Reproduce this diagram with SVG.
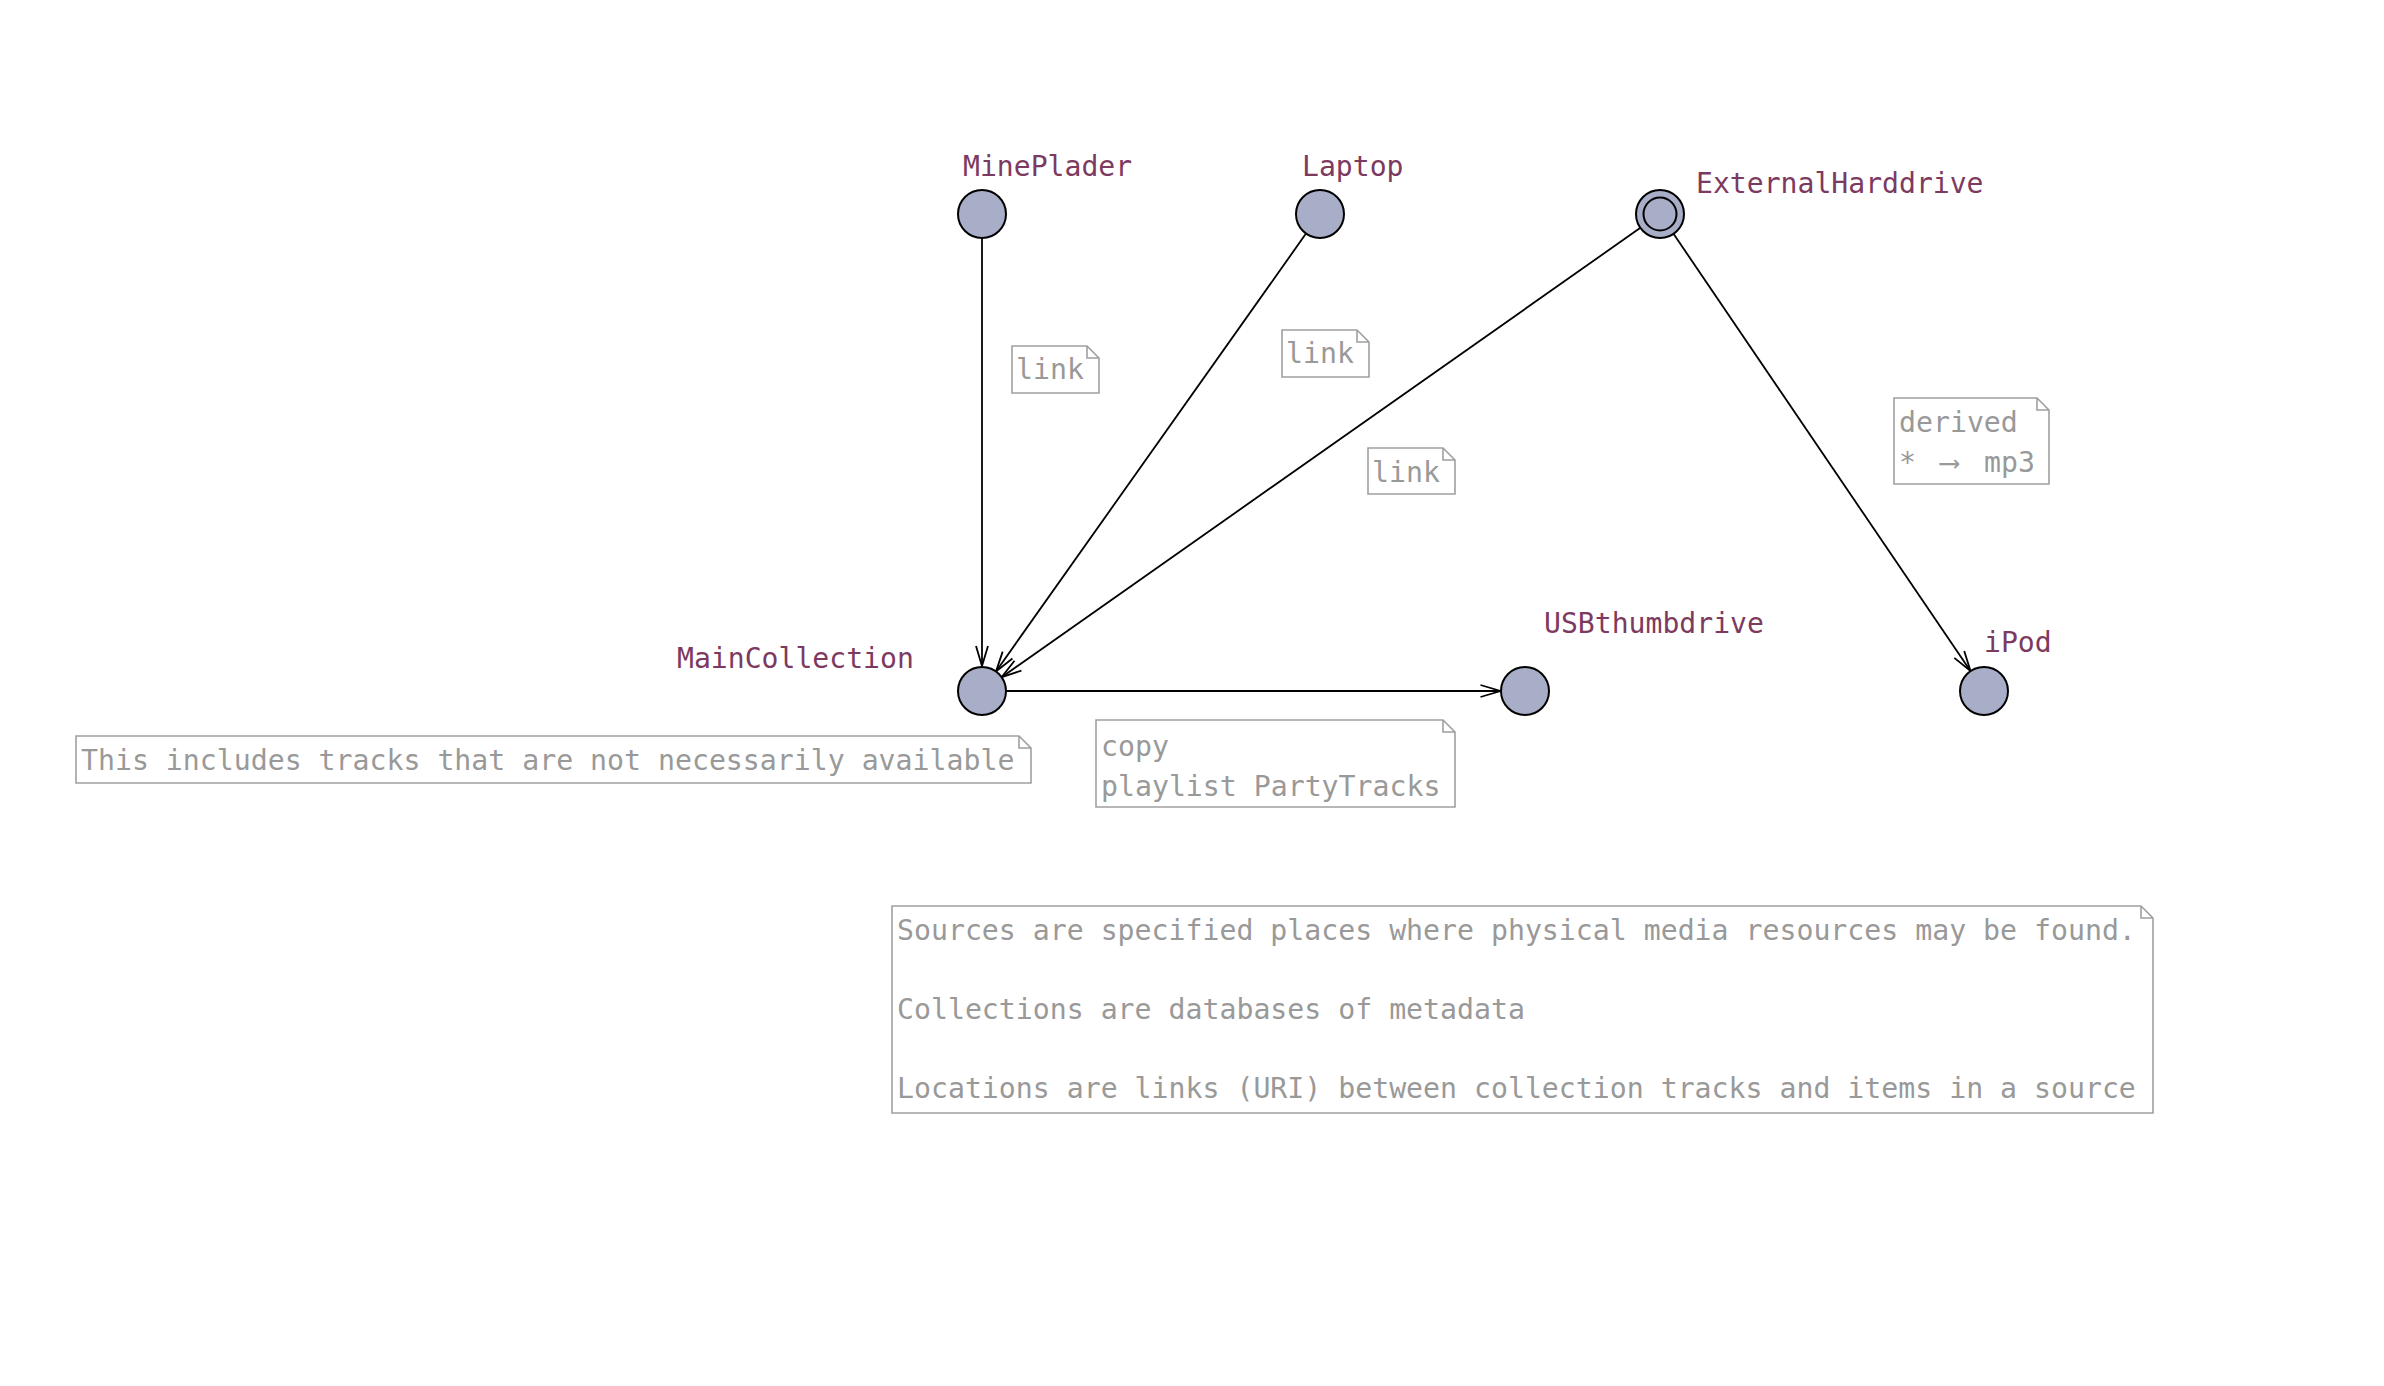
<svg xmlns="http://www.w3.org/2000/svg" width="2384" height="1386" viewBox="0 0 2384 1386">
<style>
.lbl{font-family:"DejaVu Sans Mono","Liberation Mono",monospace;font-size:28.1px;fill:#7d3a60}
.nt{font-family:"DejaVu Sans Mono","Liberation Mono",monospace;font-size:28.2px;fill:#999999}
.node{fill:#a8aec8;stroke:#000;stroke-width:2}
.note{fill:#fff;stroke:#a0a0a0;stroke-width:1.6}
.edge{fill:none;stroke:#000;stroke-width:1.8}
</style>
<defs>
<marker id="arr" markerUnits="userSpaceOnUse" markerWidth="24" markerHeight="16" refX="21" refY="7" orient="auto">
<path d="M1,1 L21,7 L1,13" fill="none" stroke="#000" stroke-width="1.8"/>
</marker>
</defs>
<rect width="2384" height="1386" fill="#fff"/>
<g id="connectors">
<line class="edge" x1="982" y1="238" x2="982" y2="666" marker-end="url(#arr)"/>
<line class="edge" x1="1306" y1="233.6" x2="996" y2="671.4" marker-end="url(#arr)"/>
<line class="edge" x1="1640.4" y1="227.8" x2="1001.6" y2="677.2" marker-end="url(#arr)"/>
<line class="edge" x1="1673.5" y1="233.8" x2="1970.5" y2="671" marker-end="url(#arr)"/>
<line class="edge" x1="1006.5" y1="691" x2="1500.5" y2="691" marker-end="url(#arr)"/>
</g>
<g id="MinePlader">
<circle class="node" cx="982" cy="214" r="24"/>
<text class="lbl" x="963" y="176">MinePlader</text>
</g>
<g id="Laptop">
<circle class="node" cx="1320" cy="214" r="24"/>
<text class="lbl" x="1302" y="176">Laptop</text>
</g>
<g id="ExternalHarddrive">
<circle class="node" cx="1660" cy="214" r="24"/>
<circle class="node" cx="1660" cy="214" r="16.5"/>
<text class="lbl" x="1696" y="193">ExternalHarddrive</text>
</g>
<g id="MainCollection">
<circle class="node" cx="982" cy="691" r="24"/>
<text class="lbl" x="677" y="668">MainCollection</text>
</g>
<g id="USBthumbdrive">
<circle class="node" cx="1525" cy="691" r="24"/>
<text class="lbl" x="1544" y="633">USBthumbdrive</text>
</g>
<g id="iPod">
<circle class="node" cx="1984" cy="691" r="24"/>
<text class="lbl" x="1984" y="652">iPod</text>
</g>
<g id="note-link1">
<path class="note" d="M1012,346 H1087 L1099,358 V393 H1012 Z M1087,346 V358 H1099"/>
<text class="nt" x="1016" y="379">link</text>
</g>
<g id="note-link2">
<path class="note" d="M1282,330 H1357 L1369,342 V377 H1282 Z M1357,330 V342 H1369"/>
<text class="nt" x="1286" y="363">link</text>
</g>
<g id="note-link3">
<path class="note" d="M1368,448 H1443 L1455,460 V494 H1368 Z M1443,448 V460 H1455"/>
<text class="nt" x="1372" y="482">link</text>
</g>
<g id="note-derived">
<path class="note" d="M1894,398 H2037 L2049,410 V484 H1894 Z M2037,398 V410 H2049"/>
<text class="nt" x="1899" y="432">derived</text>
<text class="nt" x="1899" y="472">* <tspan x="1958" text-anchor="middle">⟶</tspan> <tspan x="1984">mp3</tspan></text>
</g>
<g id="note-main">
<path class="note" d="M76,736 H1019 L1031,748 V783 H76 Z M1019,736 V748 H1031"/>
<text class="nt" x="81" y="770">This includes tracks that are not necessarily available</text>
</g>
<g id="note-copy">
<path class="note" d="M1096,720 H1443 L1455,732 V807 H1096 Z M1443,720 V732 H1455"/>
<text class="nt" x="1101" y="756">copy</text>
<text class="nt" x="1101" y="796">playlist PartyTracks</text>
</g>
<g id="note-legend">
<path class="note" d="M892,906 H2141 L2153,918 V1113 H892 Z M2141,906 V918 H2153"/>
<text class="nt" x="897" y="940">Sources are specified places where physical media resources may be found.</text>
<text class="nt" x="897" y="1019">Collections are databases of metadata</text>
<text class="nt" x="897" y="1098">Locations are links (URI) between collection tracks and items in a source</text>
</g>
</svg>
